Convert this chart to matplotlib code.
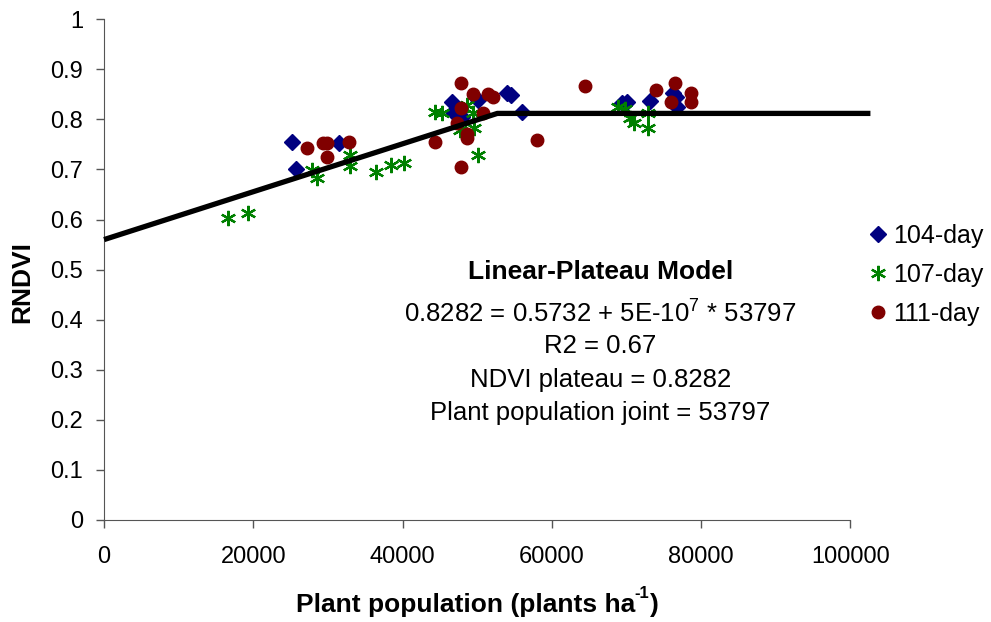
import numpy as np
import matplotlib.pyplot as plt

plt.rcParams['font.family'] = ['Liberation Sans', 'DejaVu Sans']
plt.rcParams['mathtext.fontset'] = 'custom'
plt.rcParams['mathtext.rm'] = 'Liberation Sans'

# 104-day readings
x_104 = [25200, 25700, 31500, 46600, 46800, 48000, 50100, 54000, 54500, 56000,
         69400, 70100, 73200, 76300, 76800, 76600]
y_104 = [0.754, 0.700, 0.752, 0.834, 0.814, 0.804, 0.838, 0.852, 0.848, 0.814,
         0.832, 0.834, 0.836, 0.852, 0.824, 0.845]

# 107-day readings
x_107 = [16600, 19300, 27900, 28600, 33000, 33000, 36500, 38500, 40200,
         44400, 45300, 48700, 49500, 47700, 49600, 50100,
         68900, 69800, 70500, 71000, 72900, 72900]
y_107 = [0.603, 0.613, 0.699, 0.683, 0.729, 0.707, 0.695, 0.709, 0.712,
         0.814, 0.812, 0.828, 0.812, 0.778, 0.782, 0.729,
         0.824, 0.820, 0.802, 0.792, 0.812, 0.782]

# 111-day readings
x_111 = [27200, 29300, 29900, 29900, 32800, 44400, 47800, 49500, 51500, 52100,
         47800, 50800, 47300, 48700, 48700, 58000, 47800,
         64500, 73900, 76500, 76000, 78700, 78700]
y_111 = [0.742, 0.752, 0.752, 0.725, 0.754, 0.754, 0.872, 0.850, 0.850, 0.844,
         0.822, 0.812, 0.792, 0.770, 0.762, 0.758, 0.705,
         0.866, 0.858, 0.872, 0.834, 0.852, 0.834]

# linear-plateau fit line
model_x = [0, 52700, 102700]
model_y = [0.560, 0.812, 0.812]

fig = plt.figure(figsize=(9.91, 6.22), dpi=100)
ax = fig.add_axes([0.105, 0.164, 0.753, 0.805])

ax.plot(x_104, y_104, linestyle='none', marker='D', ms=8, color='#000080',
        label='104-day', zorder=3)
ax.plot(x_107, y_107, linestyle='none', marker=(6, 2, 0), ms=11, mew=1.6,
        color='#008000', label='107-day', zorder=4)
ax.plot(x_111, y_111, linestyle='none', marker='o', ms=9, color='#800000',
        label='111-day', zorder=5)
ax.plot(model_x, model_y, color='black', lw=3.8, clip_on=False, zorder=6,
        solid_capstyle='butt')

ax.set_xlim(0, 100000)
ax.set_ylim(0, 1)
ax.set_xticks(np.arange(0, 100001, 20000))
ax.set_xticklabels([str(v) for v in range(0, 100001, 20000)])
ax.set_yticks(np.arange(0, 1.01, 0.1))
ax.set_yticklabels(['0', '0.1', '0.2', '0.3', '0.4', '0.5', '0.6', '0.7',
                    '0.8', '0.9', '1'])
ax.tick_params(axis='both', labelsize=17, direction='out', length=6,
               width=1, color='#555555')
ax.tick_params(axis='x', pad=13)
ax.tick_params(axis='y', pad=9)
for side in ['top', 'right']:
    ax.spines[side].set_visible(False)
for side in ['left', 'bottom']:
    ax.spines[side].set_color('#555555')

# y label
fig.text(22 / 991, 1 - 282 / 622, 'RNDVI', rotation=90, ha='center',
         va='center', fontsize=19, fontweight='bold')

# x label with a hyphen superscript, built from pieces
r = fig.canvas.get_renderer()
ylab = 1 - 605 / 622
p1 = fig.text(0, ylab, 'Plant population (plants ha', fontsize=19,
              fontweight='bold', va='center', ha='left')
p2 = fig.text(0, ylab + 0.018, '-1', fontsize=12, fontweight='bold',
              va='center', ha='left')
p3 = fig.text(0, ylab, ')', fontsize=19, fontweight='bold', va='center',
              ha='left')
w1 = p1.get_window_extent(r).width
w2 = p2.get_window_extent(r).width
w3 = p3.get_window_extent(r).width
start = 477 - (w1 + w2 + w3) / 2
p1.set_x(start / 991)
p2.set_x((start + w1) / 991)
p3.set_x((start + w1 + w2) / 991)

tx = 66500
ax.text(tx, 0.495, 'Linear-Plateau Model', ha='center', va='center',
        fontsize=19, fontweight='bold')
ax.text(tx, 0.415, r'0.8282 = 0.5732 + 5E-10$^{7}$ * 53797', ha='center',
        va='center', fontsize=18.5)
ax.text(tx, 0.347, 'R2 = 0.67', ha='center', va='center', fontsize=18.5)
ax.text(tx, 0.279, 'NDVI plateau = 0.8282', ha='center', va='center',
        fontsize=18.5)
ax.text(tx, 0.213, 'Plant population joint = 53797', ha='center',
        va='center', fontsize=18.5)

fig.legend(loc='upper left', bbox_to_anchor=(0.866, 0.66), frameon=False,
           fontsize=18, handlelength=0.6, handletextpad=0.3,
           labelspacing=0.6, borderpad=0)

fig.savefig('out.png', dpi=100)
